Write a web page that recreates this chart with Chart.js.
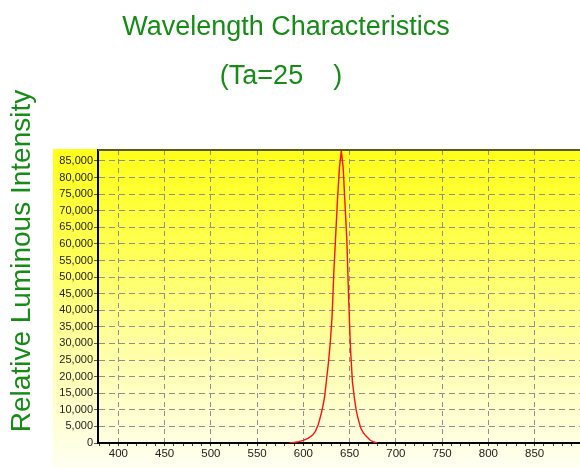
<!DOCTYPE html>
<html>
<head>
<meta charset="utf-8">
<script src="https://cdn.jsdelivr.net/npm/chart.js@4/dist/chart.umd.min.js"></script>
<style>
  html, body { margin: 0; padding: 0; background: #fff; }
  #wrap { width: 580px; height: 468px; }
</style>
</head>
<body>
<div id="wrap"><canvas id="chartSpectrum"></canvas></div>
<script>
// ====== Dados ======
const wavelengths = [585, 590, 595, 600, 605, 610, 613, 616, 619, 621, 623, 625, 627, 629, 631, 633, 635, 637, 639, 641,
                     643, 645, 647, 649, 651, 653, 655, 657, 659, 662, 665, 668, 672, 676, 680];
const intensity   = [0, 200, 400, 800, 1400, 2400, 3500, 5500, 8500, 11000, 14000, 19000, 24000, 30000, 38000, 52000, 63000, 74000, 83000, 88000,
                     83000, 72000, 61000, 43000, 28000, 18500, 13800, 10000, 7500, 4500, 3000, 2000, 900, 300, 0];
const xLabels = [400, 450, 500, 550, 600, 650, 700, 750, 800, 850];
const yLabels = [0, 5000, 10000, 15000, 20000, 25000, 30000, 35000, 40000, 45000,
                 50000, 55000, 60000, 65000, 70000, 75000, 80000, 85000];
const titleLines = ["Wavelength Characteristics", "(Ta=25    )"];
const yTitle = "Relative Luminous Intensity";

const GREEN = "#168c16";
const FONT = "'Liberation Sans', Arial, sans-serif";

// ====== Fundo amarelo, borda superior e títulos ======
const decoPlugin = {
    id: "deco",
    beforeDraw(chart) {
        const { ctx, chartArea: a } = chart;
        ctx.save();
        ctx.fillStyle = "#fff";
        ctx.fillRect(0, 0, chart.width, chart.height);
        const top = a.top - 1, left = a.left - 45;
        const g = ctx.createLinearGradient(0, top, 0, chart.height);
        g.addColorStop(0, "#ffff1a");
        g.addColorStop(0.3, "#ffff50");
        g.addColorStop(0.6, "#ffffa0");
        g.addColorStop(1, "#fffff2");
        ctx.fillStyle = g;
        ctx.fillRect(left, top, chart.width - left, chart.height - top);
        ctx.restore();
    },
    afterDraw(chart) {
        const { ctx, chartArea: a } = chart;
        ctx.save();
        ctx.strokeStyle = "#5a5a20";
        ctx.lineWidth = 2;
        ctx.beginPath();
        ctx.moveTo(a.left, a.top);
        ctx.lineTo(a.right, a.top);
        ctx.stroke();

        ctx.fillStyle = GREEN;
        ctx.font = "27px " + FONT;
        ctx.textAlign = "center";
        ctx.textBaseline = "alphabetic";
        ctx.fillText(titleLines[0], 286, 35);
        ctx.fillText(titleLines[1], 281, 84);

        ctx.font = "28px " + FONT;
        ctx.translate(30, 261);
        ctx.rotate(-Math.PI / 2);
        ctx.fillText(yTitle, 0, 0);
        ctx.restore();
    }
};

// ====== Gráfico ======
new Chart(document.getElementById("chartSpectrum"), {
    type: "line",
    data: {
        datasets: [{
            data: wavelengths.map((w, i) => ({ x: w, y: intensity[i] })),
            borderColor: "#ff1010",
            borderWidth: 1.4,
            pointRadius: 0,
            tension: 0,
            fill: false
        }]
    },
    options: {
        responsive: true,
        maintainAspectRatio: false,
        animation: false,
        layout: { padding: { top: 150, left: 0, right: 0, bottom: 0 } },
        plugins: { legend: { display: false }, title: { display: false }, tooltip: { enabled: false } },
        scales: {
            x: {
                type: "linear",
                min: 378,
                max: 899,
                afterFit: s => { s.height = 25; },
                ticks: {
                    stepSize: 10,
                    includeBounds: false,
                    autoSkip: false,
                    maxRotation: 0,
                    padding: 1,
                    color: "#222",
                    font: { family: FONT, size: 11.5 },
                    callback: v => xLabels.includes(v) ? String(v) : ""
                },
                grid: {
                    color: c => (c.tick && xLabels.includes(c.tick.value)) ? "#909090" : "rgba(0,0,0,0)",
                    tickColor: "#333",
                    tickLength: 3,
                    lineWidth: 1
                },
                border: { color: "#000", width: 2, dash: [5, 4] }
            },
            y: {
                min: 0,
                max: 88300,
                afterFit: s => { s.width = 98; },
                afterBuildTicks: s => { s.ticks = yLabels.map(v => ({ value: v })); },
                ticks: {
                    autoSkip: false,
                    padding: 1,
                    color: "#222",
                    font: { family: FONT, size: 11 },
                    callback: v => Number(v).toLocaleString("en-US")
                },
                grid: {
                    color: c => (c.tick && c.tick.value > 0) ? "#909090" : "rgba(0,0,0,0)",
                    tickColor: "#555",
                    tickLength: 4,
                    lineWidth: 1
                },
                border: { color: "#000", width: 2, dash: [6, 4] }
            }
        }
    },
    plugins: [decoPlugin]
});
</script>
</body>
</html>
